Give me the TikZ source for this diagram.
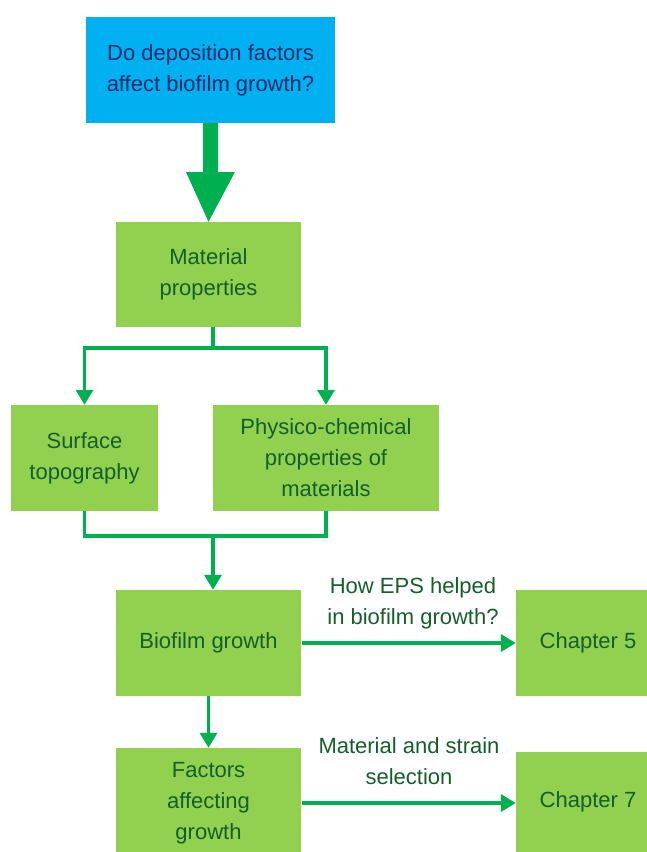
\documentclass[tikz,border=0pt]{standalone}
\usepackage{fontspec}
\setmainfont{Liberation Sans}
\usetikzlibrary{arrows.meta}
\definecolor{qblue}{HTML}{00B0F0}
\definecolor{qtext}{HTML}{0E2C6E}
\definecolor{boxgreen}{HTML}{92D050}
\definecolor{boxtext}{HTML}{145E2C}
\definecolor{flow}{HTML}{00B050}
\begin{document}
\begin{tikzpicture}[x=1pt,y=-1pt,
  every node/.style={font=\fontsize{22}{31}\selectfont, align=center, inner sep=0pt},
  qbox/.style={rectangle, fill=qblue, text=qtext},
  gbox/.style={rectangle, fill=boxgreen, text=boxtext},
  lbl/.style={text=boxtext},
  conn/.style={draw=flow, line width=3.5pt, line join=miter},
  arr/.style={conn, -{Triangle[length=15pt,width=17pt]}}]
\useasboundingbox (0,0) rectangle (647,852);
\clip (0,0) rectangle (647,852);

% boxes
\node[qbox, minimum width=249pt, minimum height=106pt] (q) at (210.5,70) {Do deposition factors\\affect biofilm growth?};
\node[gbox, minimum width=185pt, minimum height=105pt] (mat) at (208.5,274.5) {Material\\properties};
\node[gbox, minimum width=147pt, minimum height=106pt] (surf) at (84.5,458) {Surface\\topography};
\node[gbox, minimum width=226pt, minimum height=106pt] (phys) at (326,458) {Physico-chemical\\properties of\\materials};
\node[gbox, minimum width=185pt, minimum height=106pt] (bio) at (208.5,643) {Biofilm growth};
\node[gbox, minimum width=144pt, minimum height=106pt] (ch5) at (588,643) {Chapter 5};
\node[gbox, minimum width=185pt, minimum height=110pt] (fac) at (208.5,803) {Factors\\affecting\\growth};
\node[gbox, minimum width=144pt, minimum height=100pt] (ch7) at (588,802) {Chapter 7};

% arrow labels
\node[lbl] (eps) at (413,603) {How EPS helped\\in biofilm growth?};
\node[lbl] (sel) at (409,761) {Material and strain\\selection};

% wide block arrow from the question
\coordinate (bt) at (q.south);
\coordinate (bh) at (mat.north);
\fill[flow] ([xshift=-7.5pt]bt) -- ([xshift=7.5pt]bt) -- ([xshift=7.5pt]bt |- 0,172)
  -- ([xshift=24.5pt]bt |- 0,172) -- (bh) -- ([xshift=-24.5pt]bt |- 0,172)
  -- ([xshift=-7.5pt]bt |- 0,172) -- cycle;

% split towards the two property boxes
\coordinate (split) at (213,348);
\draw[conn] (mat.south -| split) -- (split);
\draw[arr] (split) -| (surf.north);
\draw[arr] (split) -| (phys.north);

% merge into biofilm growth
\coordinate (join) at (213,536);
\draw[conn] (surf.south) |- (join);
\draw[conn] (phys.south) |- (join);
\draw[arr] (join) -- (bio.north -| join);

% remaining flow
\draw[arr] (bio.south) -- (fac.north);
\draw[arr] ([xshift=1pt]bio.east) -- (ch5.west);
\draw[arr] ([xshift=1pt]fac.east) -- (fac.east -| ch7.west);
\end{tikzpicture}
\end{document}
